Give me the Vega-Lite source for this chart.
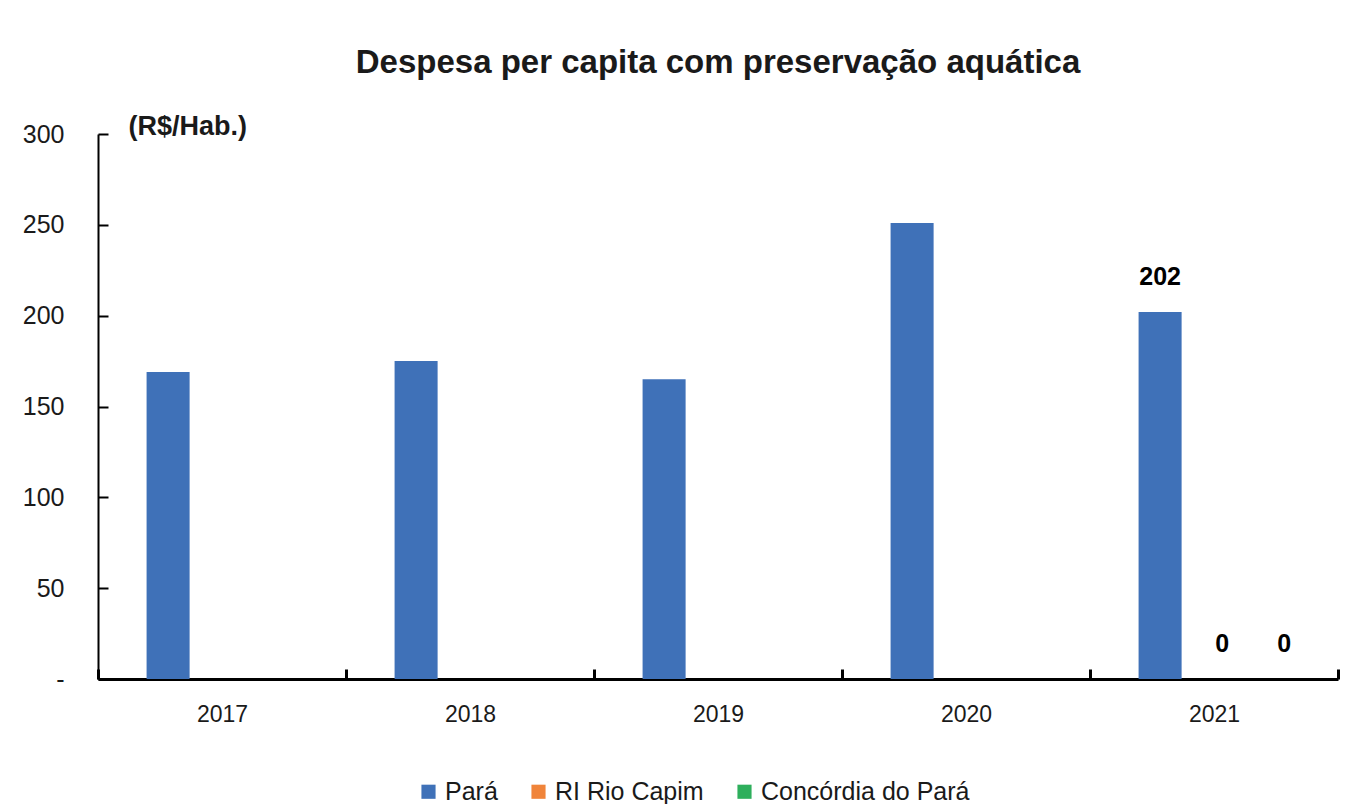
{
  "$schema": "https://vega.github.io/schema/vega-lite/v6.json",
  "width": 1240,
  "height": 545,
  "autosize": {"type": "none"},
  "padding": {"left": 98, "top": 134, "right": 20, "bottom": 125},
  "background": "white",
  "title": {
    "text": "Despesa per capita com preservação aquática",
    "font": "Liberation Sans",
    "fontSize": 33,
    "fontWeight": "bold",
    "color": "#1a1a1a",
    "anchor": "middle",
    "frame": "group",
    "offset": 32
  },
  "config": {
    "view": {"stroke": null},
    "font": "Liberation Sans"
  },
  "data": {
    "values": [
      {"ano": "2017", "regiao": "Pará", "valor": 169},
      {"ano": "2017", "regiao": "RI Rio Capim", "valor": 0},
      {"ano": "2017", "regiao": "Concórdia do Pará", "valor": 0},
      {"ano": "2018", "regiao": "Pará", "valor": 175},
      {"ano": "2018", "regiao": "RI Rio Capim", "valor": 0},
      {"ano": "2018", "regiao": "Concórdia do Pará", "valor": 0},
      {"ano": "2019", "regiao": "Pará", "valor": 165},
      {"ano": "2019", "regiao": "RI Rio Capim", "valor": 0},
      {"ano": "2019", "regiao": "Concórdia do Pará", "valor": 0},
      {"ano": "2020", "regiao": "Pará", "valor": 251},
      {"ano": "2020", "regiao": "RI Rio Capim", "valor": 0},
      {"ano": "2020", "regiao": "Concórdia do Pará", "valor": 0},
      {"ano": "2021", "regiao": "Pará", "valor": 202},
      {"ano": "2021", "regiao": "RI Rio Capim", "valor": 0},
      {"ano": "2021", "regiao": "Concórdia do Pará", "valor": 0}
    ]
  },
  "encoding": {
    "x": {
      "field": "ano",
      "type": "nominal",
      "scale": {"paddingInner": 0, "paddingOuter": 0},
      "axis": {
        "title": null,
        "labelAngle": 0,
        "labelFontSize": 23,
        "labelColor": "#1a1a1a",
        "labelPadding": 34,
        "bandPosition": 0,
        "tickBand": "extent",
        "domainColor": "#000",
        "domainWidth": 3,
        "tickColor": "#000",
        "tickWidth": 3,
        "tickSize": -10,
        "grid": false
      }
    },
    "xOffset": {
      "field": "regiao",
      "type": "nominal",
      "sort": ["Pará", "RI Rio Capim", "Concórdia do Pará"],
      "scale": {"paddingInner": 0.306, "paddingOuter": 0.653, "align": 0.6}
    },
    "y": {
      "field": "valor",
      "type": "quantitative",
      "scale": {"domain": [0, 300], "nice": false},
      "axis": {
        "values": [0, 50, 100, 150, 200, 250, 300],
        "labelExpr": "datum.value == 0 ? '-' : datum.label",
        "labelFontSize": 25,
        "labelColor": "#1a1a1a",
        "labelPadding": 44,
        "grid": false,
        "domainColor": "#000",
        "domainWidth": 2,
        "tickColor": "#000",
        "tickWidth": 2,
        "tickSize": -10,
        "title": "(R$/Hab.)",
        "titleAngle": 0,
        "titleAlign": "left",
        "titleBaseline": "bottom",
        "titleX": 30,
        "titleY": 6,
        "titleFontSize": 27,
        "titleFontWeight": "bold",
        "titleColor": "#1a1a1a",
        "titleFont": "Liberation Sans"
      }
    },
    "color": {
      "field": "regiao",
      "type": "nominal",
      "sort": ["Pará", "RI Rio Capim", "Concórdia do Pará"],
      "scale": {
        "domain": ["Pará", "RI Rio Capim", "Concórdia do Pará"],
        "range": ["#3F71B8", "#F0843A", "#2EAF5C"]
      },
      "legend": {
        "title": null,
        "orient": "none",
        "legendX": 318,
        "legendY": 645,
        "direction": "horizontal",
        "symbolType": "square",
        "symbolSize": 200,
        "symbolStrokeWidth": 0,
        "labelFontSize": 25,
        "labelLimit": 0,
        "labelColor": "#1a1a1a",
        "columnPadding": 28,
        "labelOffset": 4
      }
    }
  },
  "layer": [
    {"mark": {"type": "bar"}},
    {
      "transform": [{"filter": "datum.ano == '2021'"}],
      "mark": {"type": "text", "dy": -22, "fontWeight": "bold", "fontSize": 25, "color": "#000", "baseline": "bottom"},
      "encoding": {
        "text": {"field": "valor", "type": "quantitative", "format": "d"},
        "color": {"value": "#000"}
      }
    }
  ]
}
